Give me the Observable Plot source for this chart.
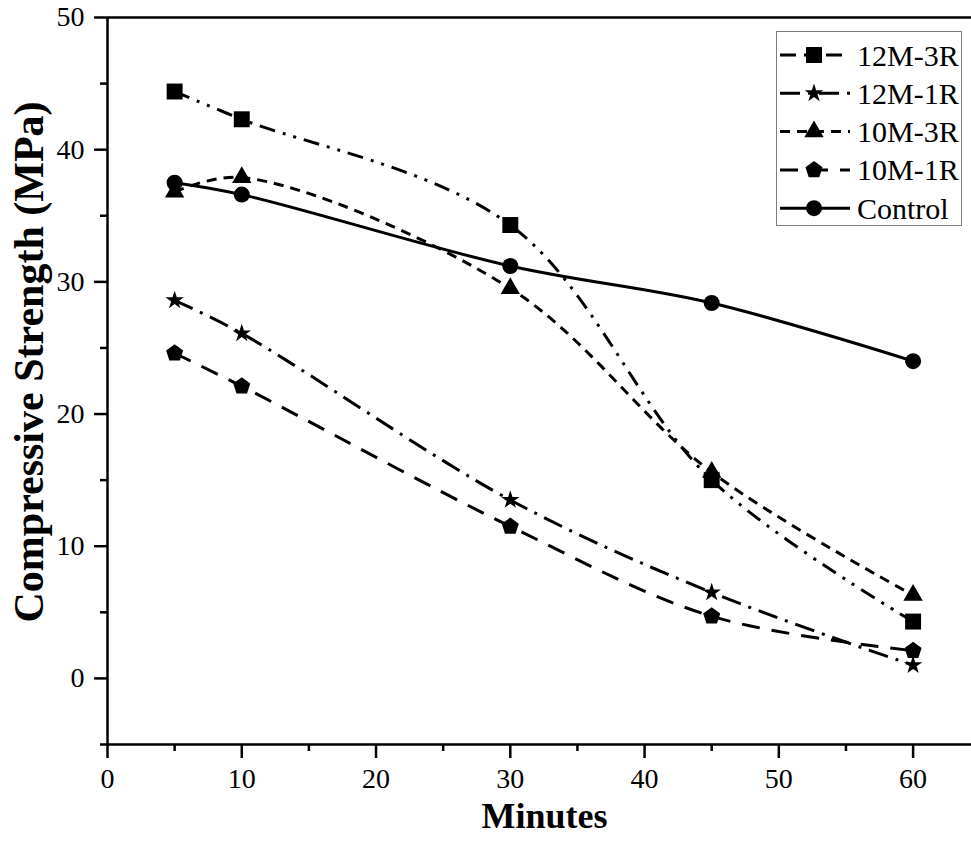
<!DOCTYPE html>
<html>
<head>
<meta charset="utf-8">
<script src="https://cdn.jsdelivr.net/npm/d3@7"></script>
<script src="https://cdn.jsdelivr.net/npm/@observablehq/plot@0.6"></script>
<style>
  html, body { margin: 0; padding: 0; background: white; }
  #wrap { position: relative; width: 971px; height: 856px; }
  #legend { position: absolute; left: 776px; top: 31px; width: 186px; height: 195px;
            border: 1px solid #7f7f7f; box-sizing: border-box; background: white; }
</style>
</head>
<body>
<div id="wrap"><div id="legend"></div></div>
<script>
// ---- data ----
const minutes = [5, 10, 30, 45, 60];
const seriesNames = ["12M-3R", "12M-1R", "10M-3R", "10M-1R", "Control"];
const s12M3R = [44.4, 42.3, 34.3, 15.0, 4.3];
const s12M1R = [28.6, 26.1, 13.5, 6.5, 1.0];
const s10M3R = [36.8, 37.9, 29.5, 15.6, 6.3];
const s10M1R = [24.6, 22.1, 11.5, 4.7, 2.1];
const sControl = [37.5, 36.6, 31.2, 28.4, 24.0];
const xMajorTicks = [0, 10, 20, 30, 40, 50, 60];
const xMinorTicks = [5, 15, 25, 35, 45, 55];
const yMajorTicks = [0, 10, 20, 30, 40, 50];
const yMinorTicks = [-5, 5, 15, 25, 35, 45];
const xLabel = "Minutes";
const yLabel = "Compressive Strength (MPa)";

// custom pentagon symbol
const pentagon = {
  draw(context, size) {
    const R = Math.sqrt(size / 2.3776);
    for (let k = 0; k < 5; k++) {
      const a = -Math.PI / 2 + k * 2 * Math.PI / 5;
      const px = R * Math.cos(a), py = R * Math.sin(a);
      if (k === 0) context.moveTo(px, py); else context.lineTo(px, py);
    }
    context.closePath();
  }
};

const styles = [
  {values: s12M3R, symbol: "square", r: 9, dash: "16,8,3,8,3,8"},
  {values: s12M1R, symbol: "star", r: 5.8, dash: "20,8,3,8"},
  {values: s10M3R, symbol: "triangle", r: 7.2, dash: "10,7"},
  {values: s10M1R, symbol: pentagon, r: 7.8, dash: "18,12"},
  {values: sControl, symbol: "circle", r: 8, dash: null}
];

const marks = [];
styles.forEach((s, i) => {
  const rows = minutes.map((m, j) => ({minute: m, value: s.values[j], series: seriesNames[i]}));
  marks.push(Plot.line(rows, {x: "minute", y: "value", curve: "catmull-rom", stroke: "black",
    strokeWidth: 3, strokeDasharray: s.dash, strokeLinecap: "butt"}));
  marks.push(Plot.dot(rows, {x: "minute", y: "value", symbol: s.symbol, r: s.r, fill: "black", stroke: "none"}));
});

const chart = Plot.plot({
  width: 971, height: 856,
  marginLeft: 107, marginRight: 0, marginTop: 17, marginBottom: 112,
  x: {domain: [0, 64.35], label: null},
  y: {domain: [-5, 50], label: null},
  style: {fontFamily: "'Liberation Serif', 'Times New Roman', serif", fontSize: "28px", color: "black", background: "white"},
  marks: [
    Plot.axisX({ticks: xMajorTicks, tickSize: 14, tickPadding: 10, strokeWidth: 2.5, fontSize: 28, label: null}),
    Plot.axisX({ticks: xMinorTicks, tickSize: 7, strokeWidth: 2.5, tickFormat: () => "", label: null}),
    Plot.axisY({ticks: yMajorTicks, tickSize: 13, tickPadding: 10, strokeWidth: 2.5, fontSize: 28, label: null}),
    Plot.axisY({ticks: yMinorTicks, tickSize: 7, strokeWidth: 2.5, tickFormat: () => "", label: null}),
    Plot.ruleX([0], {strokeWidth: 2.5}),
    Plot.ruleY([-5], {strokeWidth: 2.5}),
    Plot.ruleY([50], {strokeWidth: 2.5}),
    ...marks,
    Plot.text([xLabel], {frameAnchor: "bottom", textAnchor: "middle", dy: 83, dx: 5, fontSize: 36, fontWeight: "bold", fill: "black"}),
    Plot.text([yLabel], {frameAnchor: "left", textAnchor: "middle", rotate: -90, dx: -78, dy: -19, fontSize: 42, fontWeight: "bold", fill: "black"})
  ]
});
document.getElementById("wrap").prepend(chart);

// ---- legend ----
const lg = d3.select("#legend").append("svg").attr("width", 184).attr("height", 193)
  .style("overflow", "visible")
  .style("font-family", "'Liberation Serif', 'Times New Roman', serif");
styles.forEach((s, i) => {
  const cy = 23 + i * 38.3;
  const g = lg.append("g").attr("transform", `translate(0,${cy})`);
  g.append("line").attr("x1", 3).attr("x2", 73).attr("y1", 0).attr("y2", 0)
    .attr("stroke", "black").attr("stroke-width", 3)
    .attr("stroke-dasharray", s.dash);
  const type = typeof s.symbol === "string"
    ? {square: d3.symbolSquare, star: d3.symbolStar, triangle: d3.symbolTriangle, circle: d3.symbolCircle}[s.symbol]
    : s.symbol;
  g.append("path").attr("transform", "translate(37,0)")
    .attr("d", d3.symbol(type, Math.PI * s.r * s.r)()).attr("fill", "black");
  g.append("text").attr("x", 80).attr("y", 0).attr("dy", "0.35em")
    .attr("font-size", 30).attr("fill", "black").text(seriesNames[i]);
});
</script>
</body>
</html>
